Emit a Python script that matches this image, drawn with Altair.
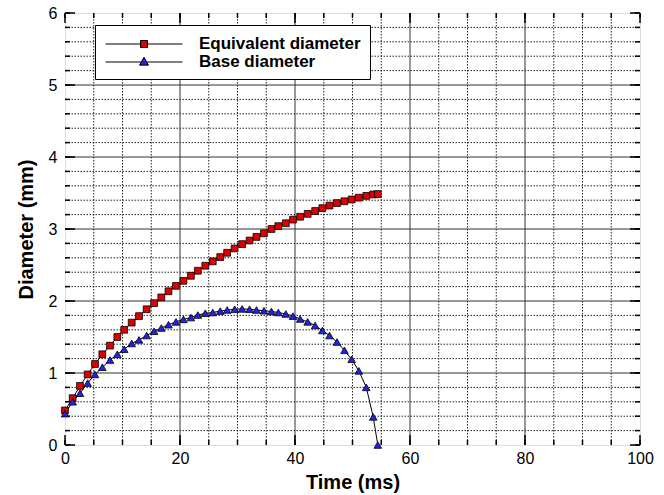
import altair as alt
import pandas as pd

# ---- data ----
time_ms = [0, 1.33, 2.61, 3.94, 5.22, 6.49, 7.83, 9.1, 10.3, 11.6, 12.87, 14.2, 15.5, 16.75,
           18.0, 19.3, 20.6, 21.9, 23.1, 24.4, 25.7, 27.0, 28.2, 29.5, 30.8, 32.1, 33.3, 34.6,
           35.9, 37.1, 38.4, 39.65, 40.9, 42.2, 43.5, 44.75, 46.0, 47.3, 48.6, 49.85, 51.1,
           52.4, 53.6, 54.4]
equivalent_diameter = [0.48, 0.65, 0.82, 0.98, 1.125, 1.26, 1.38, 1.50, 1.60, 1.70, 1.79, 1.885,
                       1.97, 2.05, 2.135, 2.21, 2.28, 2.35, 2.42, 2.49, 2.55, 2.61, 2.67, 2.73,
                       2.79, 2.84, 2.89, 2.94, 3.00, 3.04, 3.08, 3.13, 3.17, 3.21, 3.25, 3.29,
                       3.325, 3.36, 3.385, 3.41, 3.435, 3.46, 3.48, 3.485]
base_diameter = [0.435, 0.60, 0.72, 0.86, 0.98, 1.08, 1.18, 1.26, 1.33, 1.41, 1.46, 1.52, 1.58,
                 1.625, 1.67, 1.71, 1.745, 1.77, 1.805, 1.83, 1.84, 1.86, 1.875, 1.885, 1.89,
                 1.885, 1.875, 1.865, 1.855, 1.84, 1.82, 1.79, 1.75, 1.71, 1.66, 1.59, 1.52,
                 1.43, 1.315, 1.19, 1.03, 0.80, 0.39, 0.0]
series_names = ["Equivalent diameter", "Base diameter"]
series_colors = ["#DD0000", "#2222EE"]

x_major = [0, 20, 40, 60, 80, 100]
y_major = [0, 1, 2, 3, 4, 5, 6]
x_minor = [5 * i for i in range(21)]
y_minor = [round(0.2 * i, 1) for i in range(31)]

W, H = 575, 432
FONT = "Liberation Sans"

xs = alt.Scale(domain=[0, 100], nice=False, zero=False)
ys = alt.Scale(domain=[0, 6], nice=False, zero=False)
x_axis = alt.Axis(values=x_major, title="Time (ms)", grid=False, ticks=False, domain=False,
                  labelFlush=False, labelFont=FONT, labelFontSize=16, labelColor="black",
                  labelPadding=5, titleFont=FONT, titleFontSize=20, titleFontWeight="bold",
                  titleColor="black", titlePadding=6)
y_axis = alt.Axis(values=y_major, title="Diameter (mm)", grid=False, ticks=False, domain=False,
                  labelFlush=False, labelFont=FONT, labelFontSize=16, labelColor="black",
                  labelPadding=8, titleFont=FONT, titleFontSize=20, titleFontWeight="bold",
                  titleColor="black", titlePadding=12)


def X(field):
    return alt.X(f"{field}:Q", scale=xs, axis=x_axis)


def Y(field):
    return alt.Y(f"{field}:Q", scale=ys, axis=y_axis)


xg_minor = pd.DataFrame({"gx": [v for v in x_minor if v % 20 != 0]})
xg_major = pd.DataFrame({"gx": [v for v in x_major if 0 < v < 100]})
yg_minor = pd.DataFrame({"gy": [v for v in y_minor if abs(v - round(v)) > 1e-9]})
yg_major = pd.DataFrame({"gy": [v for v in y_major if 0 < v < 6]})
xt_minor = pd.DataFrame({"gx": x_minor})
xt_major = pd.DataFrame({"gx": x_major})
yt_minor = pd.DataFrame({"gy": y_minor})
yt_major = pd.DataFrame({"gy": y_major})

dotted = dict(color="#222222", strokeWidth=1, strokeDash=[1.5, 1.5])
solid = dict(color="#333333", strokeWidth=1)

layers = [
    alt.Chart(xg_minor).mark_rule(**dotted).encode(x=X("gx")),
    alt.Chart(yg_minor).mark_rule(**dotted).encode(y=Y("gy")),
    alt.Chart(xg_major).mark_rule(**solid).encode(x=X("gx")),
    alt.Chart(yg_major).mark_rule(**solid).encode(y=Y("gy")),
]

tick = dict(color="black", strokeWidth=1.5)
for df, ln in [(xt_minor, 5), (xt_major, 10)]:
    layers.append(alt.Chart(df).mark_rule(**tick).encode(x=X("gx"), y=alt.value(H), y2=alt.value(H - ln)))
    layers.append(alt.Chart(df).mark_rule(**tick).encode(x=X("gx"), y=alt.value(0), y2=alt.value(ln)))
for df, ln in [(yt_minor, 5), (yt_major, 10)]:
    layers.append(alt.Chart(df).mark_rule(**tick).encode(y=Y("gy"), x=alt.value(0), x2=alt.value(ln)))
    layers.append(alt.Chart(df).mark_rule(**tick).encode(y=Y("gy"), x=alt.value(W), x2=alt.value(W - ln)))

eq_df = pd.DataFrame({"t": time_ms, "d": equivalent_diameter})
base_df = pd.DataFrame({"t": time_ms, "d": base_diameter})

layers += [
    alt.Chart(eq_df).mark_line(color="black", strokeWidth=1).encode(x=X("t"), y=Y("d")),
    alt.Chart(base_df).mark_line(color="black", strokeWidth=1).encode(x=X("t"), y=Y("d")),
    alt.Chart(eq_df).mark_point(shape="square", filled=True, fill=series_colors[0], stroke="black",
                                strokeWidth=0.8, size=46, opacity=1).encode(x=X("t"), y=Y("d")),
    alt.Chart(base_df).mark_point(shape="triangle-up", filled=True, fill=series_colors[1], stroke="black",
                                  strokeWidth=0.8, size=58, opacity=1).encode(x=X("t"), y=Y("d")),
]

sq_path = "M-4.05,0H-0.37M0.37,0H4.05M-0.37,-0.37H0.37V0.37H-0.37Z"
tri_path = "M-4.05,0H-0.3M0.3,0H4.05M0,-0.5L0.47,0.33H-0.47Z"

leg = alt.Legend(title=None, orient="none", legendX=30, legendY=12, padding=9,
                 strokeColor="black", fillColor="white", symbolSize=361,
                 symbolStrokeColor="black", symbolStrokeWidth=1, symbolOffset=30,
                 labelOffset=45, labelLimit=0, labelFont=FONT, labelFontSize=17,
                 labelFontWeight="bold", labelColor="black", rowPadding=0)

legend_df = pd.DataFrame({"series": series_names, "t": [0, 0], "d": [0, 0]})
layers.append(
    alt.Chart(legend_df).transform_filter("false")
    .mark_point(filled=True, size=361, opacity=1, strokeWidth=1)
    .encode(x=X("t"), y=Y("d"),
            fill=alt.Fill("series:N", scale=alt.Scale(domain=series_names, range=series_colors), legend=leg),
            stroke=alt.Stroke("series:N", scale=alt.Scale(domain=series_names, range=["black", "black"]), legend=leg),
            shape=alt.Shape("series:N", scale=alt.Scale(domain=series_names, range=[sq_path, tri_path]), legend=leg))
)

chart = alt.layer(*layers).properties(
    width=W, height=H,
    autosize=alt.AutoSizeParams(type="none"),
    padding={"left": 65, "top": 13, "right": 24, "bottom": 50},
).configure_view(stroke="black", strokeWidth=3).configure(background="white")

chart.save("out.html", embed_options={"renderer": "svg", "actions": False})
